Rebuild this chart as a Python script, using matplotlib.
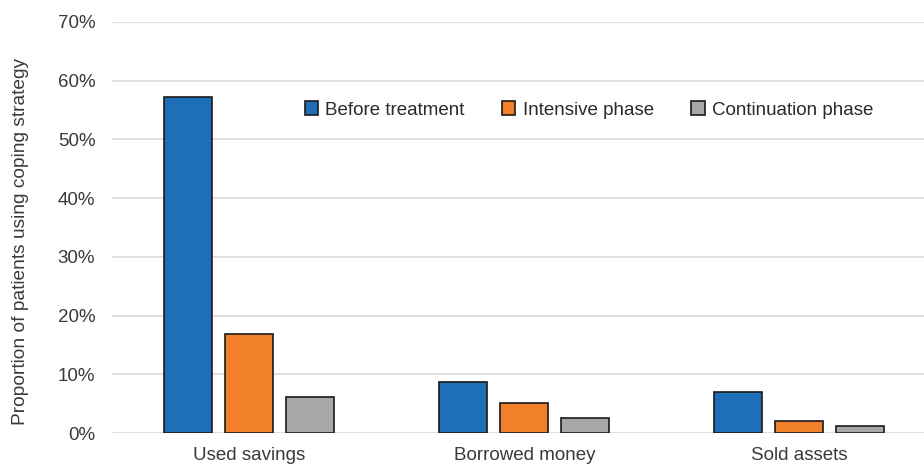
import numpy as np
import matplotlib.pyplot as plt

plt.rcParams['font.family'] = ['Liberation Sans', 'DejaVu Sans']

categories = ["Used savings", "Borrowed money", "Sold assets"]
series_names = ["Before treatment", "Intensive phase", "Continuation phase"]
before = [57.3, 8.7, 7.0]
intensive = [16.9, 5.1, 2.0]
continuation = [6.1, 2.6, 1.2]
yticks = [0, 10, 20, 30, 40, 50, 60, 70]
colors = ["#1F6FB8", "#F27F2A", "#A6A7A9"]

fig = plt.figure(figsize=(9.24, 4.65), dpi=100)
ax = fig.add_axes([112 / 924, 1 - 433 / 465, 1 - 112 / 924, (433 - 22) / 465])

x = np.arange(len(categories))
width = 0.175
offset = 0.222
for i, (vals, name) in enumerate(zip([before, intensive, continuation], series_names)):
    ax.bar(x + (i - 1) * offset, vals, width, color=colors[i], edgecolor="#1a1a1a",
           linewidth=1.2, label=name, zorder=3)

ax.set_xlim(-0.5, 2.4545)
ax.set_ylim(0, 70)
ax.set_yticks(yticks)
ax.set_yticklabels([f"{t}%" for t in yticks])
ax.set_xticks(x)
ax.set_xticklabels(categories)
ax.tick_params(axis="both", length=0, labelsize=13.5, colors="#3a3a3a")
ax.tick_params(axis="y", pad=12)
ax.tick_params(axis="x", pad=10)
ax.grid(axis="y", color="#d9d9d9", linewidth=1.2, zorder=0)
for s in ax.spines.values():
    s.set_visible(False)

ax.set_ylabel("Proportion of patients using coping strategy", fontsize=13.8,
              color="#3a3a3a")
ax.yaxis.set_label_coords(-0.102, 0.465)

leg = ax.legend(loc="center", bbox_to_anchor=((589 - 112) / 812, (433 - 110) / 411),
                ncol=3, frameon=False, fontsize=13.5, handlelength=0.7, handleheight=0.7,
                handletextpad=0.4, columnspacing=2.0, borderpad=0)
for t in leg.get_texts():
    t.set_color("#2a2a2a")

fig.savefig("out.png", dpi=100)
